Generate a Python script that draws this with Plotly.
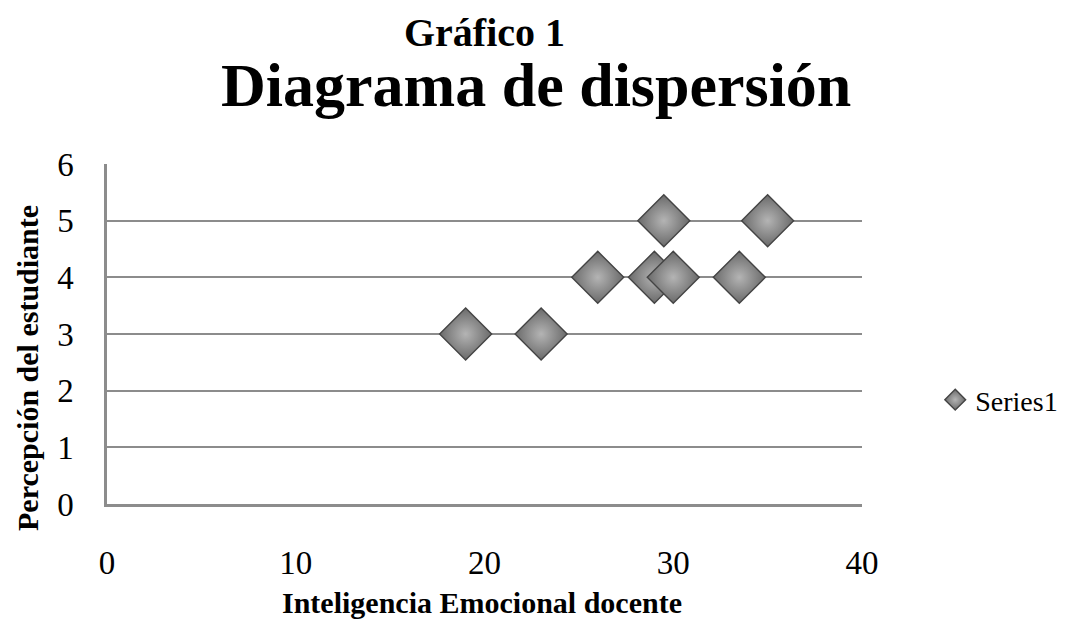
import plotly.graph_objects as go

# Data
inteligencia = [19, 23, 26, 29, 29.5, 30, 33.5, 35]
percepcion = [3, 3, 4, 4, 5, 4, 4, 5]
series_name = "Series1"
x_ticks = [0, 10, 20, 30, 40]
y_ticks = [0, 1, 2, 3, 4, 5, 6]

SERIF = "Liberation Serif"
OFF = 8  # default page body margin in the browser

fig = go.Figure()
fig.add_trace(go.Scatter(
    x=inteligencia, y=percepcion, mode="markers", name=series_name,
    marker=dict(symbol="diamond", size=40, color="#6a6a6a",
                gradient=dict(type="radial", color="#b4b4b4"),
                line=dict(color="#444444", width=1.4)),
))

# target plot area in page pixels
pl, pr, pt, pb = 107, 862, 164, 504
W, H = 1075 - OFF, 619 - OFF

fig.update_layout(
    width=W, height=H,
    paper_bgcolor="white", plot_bgcolor="white",
    margin=dict(l=pl - OFF, r=W + OFF - pr, t=pt - OFF, b=H + OFF - pb,
                autoexpand=False),
    font=dict(family=SERIF, color="black"),
    showlegend=True,
    legend=dict(x=1.097, xanchor="left", y=(pb - 400) / (pb - pt), yanchor="middle",
                font=dict(family=SERIF, size=28, color="black"),
                itemsizing="trace", itemwidth=30, bgcolor="rgba(0,0,0,0)"),
    xaxis=dict(range=[0, 40], tickvals=x_ticks, showgrid=False,
               showline=True, linecolor="#8c8c8c", linewidth=2.5,
               ticks="", ticklabelstandoff=28, zeroline=False, automargin=False,
               tickfont=dict(family=SERIF, size=33, color="black")),
    yaxis=dict(range=[0, 6], tickvals=y_ticks, showgrid=True,
               gridcolor="#8c8c8c", gridwidth=2,
               showline=True, linecolor="#8c8c8c", linewidth=2.5,
               ticks="", ticklabelstandoff=24, zeroline=False, automargin=False,
               tickfont=dict(family=SERIF, size=33, color="black")),
    annotations=[
        dict(text="<b>Gráfico 1</b>", x=484, y=32, xref="paper", yref="paper",
             showarrow=False, font=dict(family=SERIF, size=40, color="black")),
        dict(text="<b>Diagrama de dispersión</b>", x=536, y=85,
             xref="paper", yref="paper", showarrow=False,
             font=dict(family=SERIF, size=62, color="black")),
        dict(text="<b>Inteligencia Emocional docente</b>", x=482, y=602,
             xref="paper", yref="paper", showarrow=False,
             font=dict(family=SERIF, size=30, color="black")),
        dict(text="<b>Percepción del estudiante</b>", x=27, y=368,
             xref="paper", yref="paper", showarrow=False, textangle=-90,
             font=dict(family=SERIF, size=30, color="black")),
    ],
)

# convert page-pixel positions of annotations into paper coordinates
for a in fig.layout.annotations:
    px, py = a.x, a.y
    a.x = (px - pl) / (pr - pl)
    a.y = (pb - py) / (pb - pt)
    a.xanchor = "center"
    a.yanchor = "middle"

fig.write_html("out.html")
